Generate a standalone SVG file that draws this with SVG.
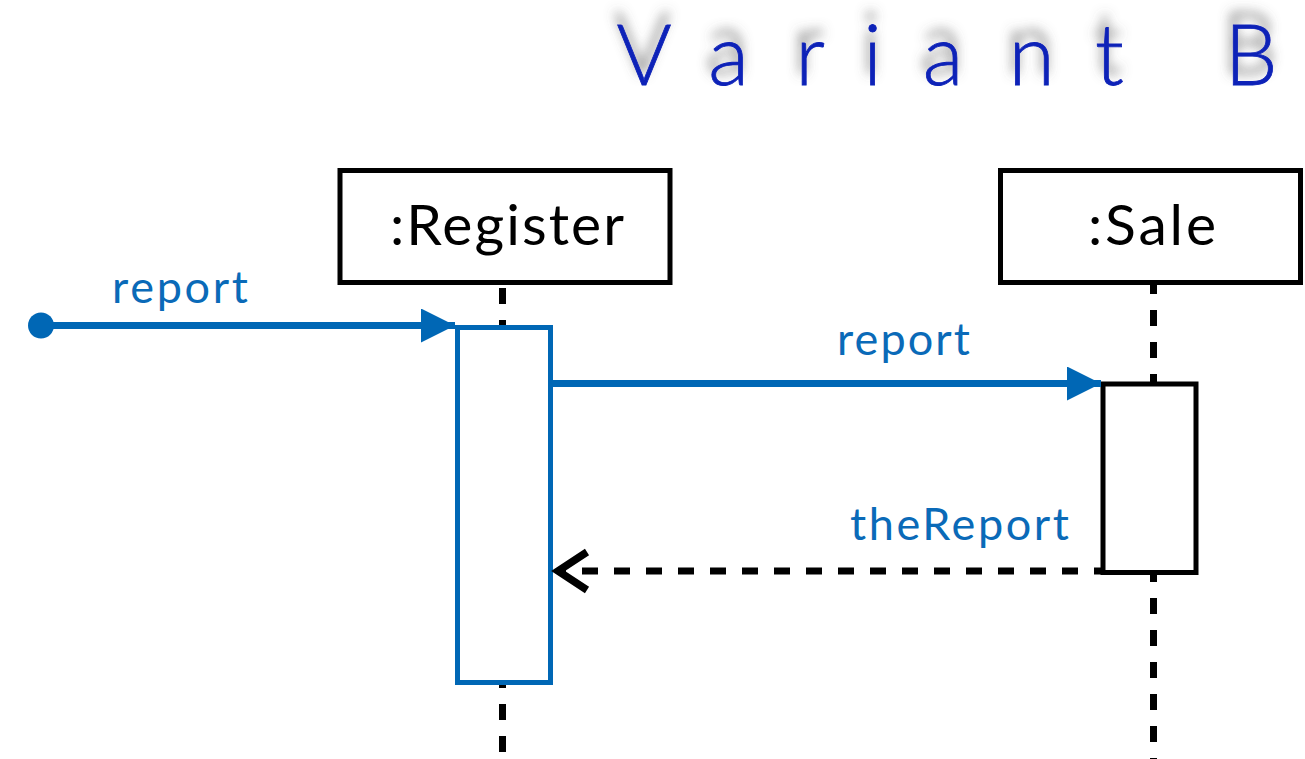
<svg xmlns="http://www.w3.org/2000/svg" width="1305" height="759" viewBox="0 0 1305 759">
  <style>
    .title { font-family: Lato, "Open Sans", sans-serif; font-size: 84px; font-weight: 300; fill: #0a22b8; stroke: #0a22b8; stroke-width: 0.8; text-anchor: middle; }
    .objname { font-family: Lato, "Open Sans", sans-serif; font-size: 57px; fill: #000; }
    .msg { font-family: Lato, "Open Sans", sans-serif; font-size: 45px; fill: #0a6ab8; }
    .head { fill: #fff; stroke: #000; stroke-width: 5; }
    .lifeline { stroke: #000; stroke-width: 7; stroke-dasharray: 16 16; fill: none; }
    .act-blue { fill: #fff; stroke: #0067b5; stroke-width: 5; }
    .act-black { fill: #fff; stroke: #000; stroke-width: 5; }
    .call { stroke: #0067b5; stroke-width: 7; fill: none; }
    .ret { stroke: #000; stroke-width: 7; stroke-dasharray: 16 16; fill: none; }
  </style>
  <defs>
    <filter id="titleShadow" x="-20%" y="-60%" width="140%" height="180%">
      <feGaussianBlur in="SourceAlpha" stdDeviation="6" result="b"/>
      <feOffset in="b" dx="-2" dy="-12" result="o"/>
      <feFlood flood-color="#5a5a5a" flood-opacity="0.8"/>
      <feComposite in2="o" operator="in" result="s"/>
      <feMerge>
        <feMergeNode in="s"/>
        <feMergeNode in="SourceGraphic"/>
      </feMerge>
    </filter>
    <marker id="solidHead" markerUnits="userSpaceOnUse" markerWidth="36" markerHeight="36" refX="34" refY="17" orient="auto" viewBox="0 0 36 36">
      <path d="M0,0 L34,17 L0,34 Z" fill="#0067b5"/>
    </marker>
  </defs>

  <rect width="1305" height="759" fill="#fff"/>

  <!-- heading -->
  <text class="title" filter="url(#titleShadow)" x="644 728.5 810 872.5 943 1031.5 1109.5 1251" y="85">VariantB</text>

  <!-- lifelines -->
  <g id="lifelines">
    <line class="lifeline" x1="502.5" y1="288" x2="502.5" y2="759"/>
    <line class="lifeline" x1="1153.5" y1="278" x2="1153.5" y2="759"/>
  </g>

  <!-- participants -->
  <g id="register">
    <rect class="head" x="340" y="170.5" width="330" height="112"/>
    <text class="objname" x="390" y="245" textLength="234" lengthAdjust="spacing">:Register</text>
  </g>
  <g id="sale">
    <rect class="head" x="1000.5" y="170.5" width="300" height="112"/>
    <text class="objname" x="1088" y="245" textLength="128" lengthAdjust="spacing">:Sale</text>
  </g>

  <!-- activation bars -->
  <g id="register-activation">
    <rect class="act-blue" x="457.5" y="327.5" width="93" height="355"/>
  </g>
  <g id="sale-activation">
    <rect class="act-black" x="1103" y="384" width="93" height="188.5"/>
  </g>

  <!-- messages -->
  <g id="connectors">
    <circle cx="41" cy="325.5" r="13" fill="#0067b5"/>
    <line class="call" x1="41" y1="325.5" x2="455" y2="325.5" marker-end="url(#solidHead)"/>
    <line class="call" x1="553" y1="383.5" x2="1101" y2="383.5" marker-end="url(#solidHead)"/>
    <line class="ret" x1="558" y1="571" x2="1103" y2="571" stroke-dashoffset="8"/>
    <path d="M587,552 L558,571 L587,590" fill="none" stroke="#000" stroke-width="7.5" stroke-linejoin="miter"/>
  </g>

  <!-- message labels -->
  <g id="labels">
    <text class="msg" x="112" y="303" textLength="136" lengthAdjust="spacing">report</text>
    <text class="msg" x="837" y="355" textLength="133" lengthAdjust="spacing">report</text>
    <text class="msg" x="850" y="540" textLength="219" lengthAdjust="spacing">theReport</text>
  </g>
</svg>
